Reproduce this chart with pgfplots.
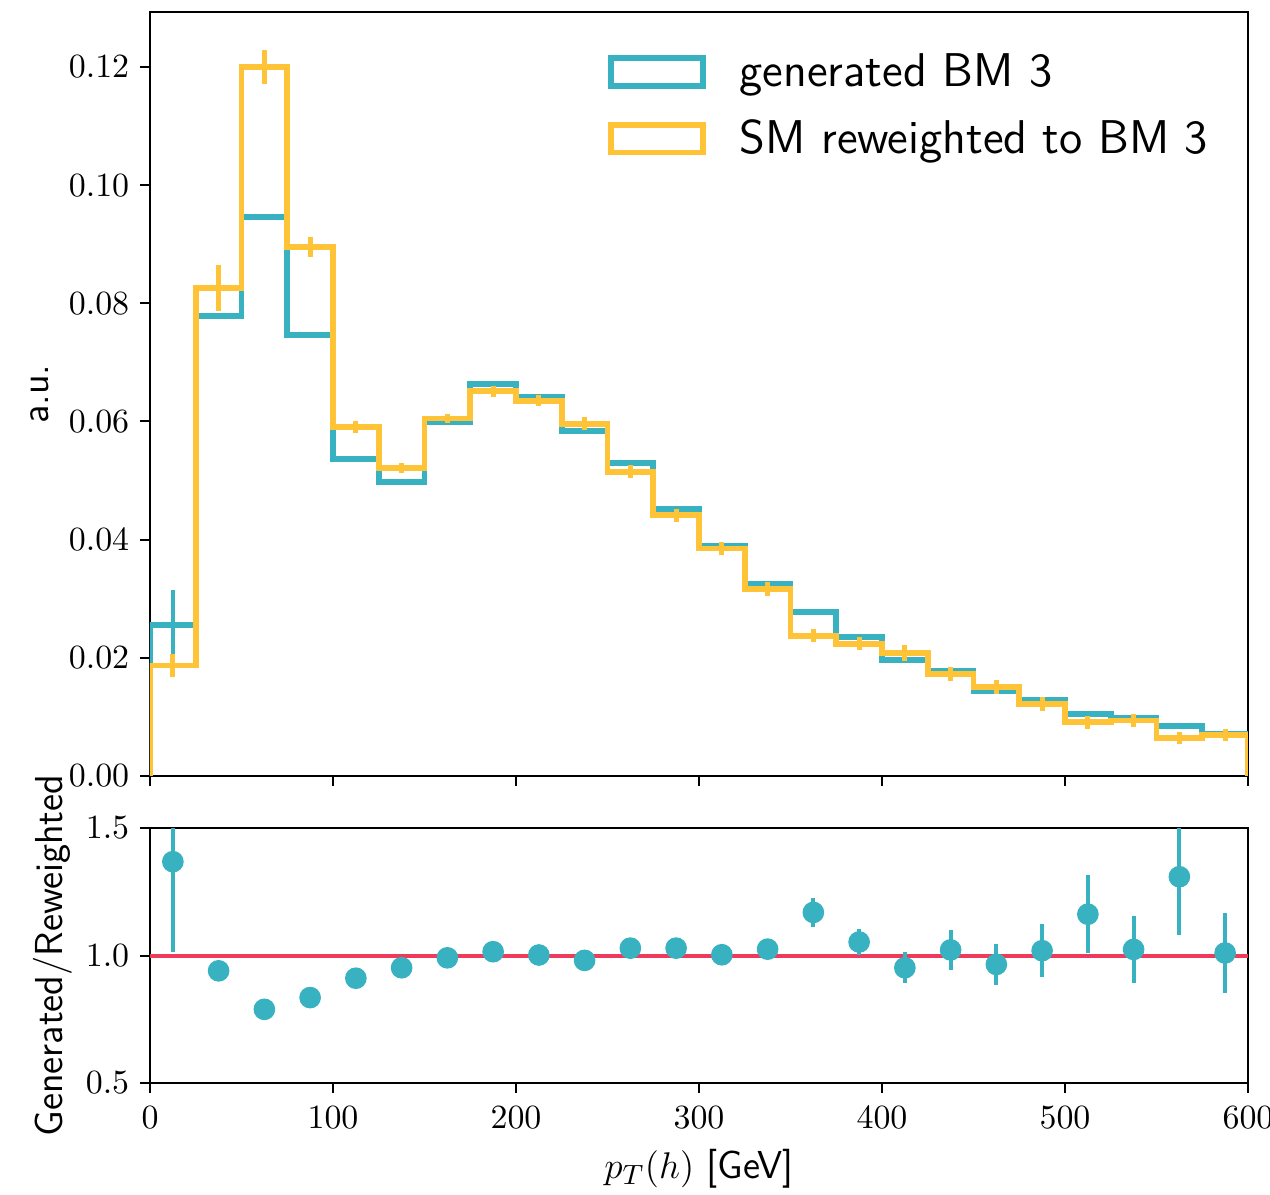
\documentclass[border=0pt]{standalone}
\usepackage{pgfplots}
\pgfplotsset{compat=1.18}
\usepackage{pgfplotstable}
\definecolor{tealc}{RGB}{56,178,193}
\definecolor{yellowc}{RGB}{255,195,55}
\definecolor{redc}{RGB}{240,58,92}

\pgfplotstableread{
x y
0 0
0 0.0255
25 0.0778
50 0.0946
75 0.0747
100 0.0537
125 0.0497
150 0.0599
175 0.0663
200 0.0641
225 0.0584
250 0.0529
275 0.0452
300 0.0389
325 0.0325
350 0.0278
375 0.0236
400 0.0197
425 0.0178
450 0.0144
475 0.0128
500 0.0105
525 0.0098
550 0.0085
575 0.0071
600 0.0071
600 0
}\genhist

\pgfplotstableread{
x y
0 0
0 0.0187
25 0.0826
50 0.1200
75 0.0895
100 0.0590
125 0.0521
150 0.0605
175 0.0651
200 0.0635
225 0.0596
250 0.0515
275 0.0441
300 0.0385
325 0.0316
350 0.0237
375 0.0224
400 0.0208
425 0.0172
450 0.0151
475 0.0122
500 0.0091
525 0.0094
550 0.0065
575 0.0069
600 0.0069
600 0
}\rewhist

\pgfplotstableread{
x y e
12.5 0.0255 0.0059
37.5 0.0778 0.0005
62.5 0.0946 0.0005
87.5 0.0747 0.0004
112.5 0.0537 0.0004
137.5 0.0497 0.0004
162.5 0.0599 0.0004
187.5 0.0663 0.0004
212.5 0.0641 0.0004
237.5 0.0584 0.0004
262.5 0.0529 0.0004
287.5 0.0452 0.0004
312.5 0.0389 0.0004
337.5 0.0325 0.0004
362.5 0.0278 0.0003
387.5 0.0236 0.0003
412.5 0.0197 0.0003
437.5 0.0178 0.0003
462.5 0.0144 0.0003
487.5 0.0128 0.0003
512.5 0.0105 0.0003
537.5 0.0098 0.0003
562.5 0.0085 0.0003
587.5 0.0071 0.0003
}\generr

\pgfplotstableread{
x y e
12.5 0.0187 0.0019
37.5 0.0826 0.0039
62.5 0.1200 0.0029
87.5 0.0895 0.0017
112.5 0.0590 0.0010
137.5 0.0521 0.0008
162.5 0.0605 0.0008
187.5 0.0651 0.0009
212.5 0.0635 0.0009
237.5 0.0596 0.0011
262.5 0.0515 0.0011
287.5 0.0441 0.0011
312.5 0.0385 0.0011
337.5 0.0316 0.0012
362.5 0.0237 0.0011
387.5 0.0224 0.0011
412.5 0.0208 0.0013
437.5 0.0172 0.0012
462.5 0.0151 0.0012
487.5 0.0122 0.0012
512.5 0.0091 0.0011
537.5 0.0094 0.0011
562.5 0.0065 0.0010
587.5 0.0069 0.0010
}\rewerr

\pgfplotstableread{
x y e
12.5 1.368 0.353
37.5 0.940 0.010
62.5 0.789 0.010
87.5 0.835 0.010
112.5 0.911 0.010
137.5 0.952 0.010
162.5 0.991 0.010
187.5 1.015 0.010
212.5 1.002 0.010
237.5 0.981 0.015
262.5 1.029 0.015
287.5 1.029 0.020
312.5 1.003 0.020
337.5 1.025 0.025
362.5 1.169 0.057
387.5 1.053 0.050
412.5 0.952 0.060
437.5 1.022 0.080
462.5 0.965 0.080
487.5 1.019 0.105
512.5 1.162 0.153
537.5 1.024 0.130
562.5 1.309 0.227
587.5 1.010 0.155
}\ratio

\pgfplotsset{
  common/.style={
    scale only axis,
    width=354.65pt,
    xmin=0, xmax=600,
    xtick={0,100,...,600},
    tick align=outside,
    xtick pos=bottom, ytick pos=left,
    major tick length=3.2pt,
    every tick/.style={black, line width=0.65pt},
    axis line style={line width=0.65pt},
    tick label style={font=\fontsize{10.5}{12}\selectfont},
    xticklabel style={yshift=-1pt},
    label style={font=\sffamily\fontsize{12.6}{14}\selectfont},
  }
}

\begin{document}
\begin{tikzpicture}
\begin{axis}[common, name=top,
  height=246.77pt,
  ymin=0, ymax=0.1293,
  ytick={0,0.02,...,0.12},
  xticklabels={},
  yticklabel style={/pgf/number format/.cd, fixed, fixed zerofill, precision=2},
  scaled y ticks=false,
  ylabel={a.u.},
  ylabel style={at={(axis description cs:-0.092,0.5)}, anchor=base, rotate=0},
  legend style={draw=none, fill=none, at={(axis description cs:0.408,0.963)}, anchor=north west,
    font=\sffamily\fontsize{15.3}{17}\selectfont, row sep=5.2pt,
    nodes={inner sep=2pt},
    /tikz/every odd column/.append style={column sep=9pt}},
  legend cell align=left,
]
\addplot[const plot, draw=tealc, line width=1.9pt, line join=miter,
  legend image code/.code={\draw[draw=tealc, line width=1.9pt] (0pt,-4.5pt) rectangle (29.7pt,4.5pt);}]
  table[x=x,y=y] {\genhist};
\addlegendentry{generated BM 3}
\addplot[forget plot, draw=none, mark=none,
  error bars/.cd, y dir=both, y explicit, error mark=none,
  error bar style={draw=tealc, line width=1.4pt}]
  table[x=x,y=y,y error=e] {\generr};
\addplot[const plot, draw=yellowc, line width=1.9pt, line join=miter,
  legend image code/.code={\draw[draw=yellowc, line width=1.9pt] (0pt,-4.5pt) rectangle (29.7pt,4.5pt);}]
  table[x=x,y=y] {\rewhist};
\addlegendentry{SM reweighted to BM 3}
\addplot[forget plot, draw=none, mark=none,
  error bars/.cd, y dir=both, y explicit, error mark=none,
  error bar style={draw=yellowc, line width=1.6pt}]
  table[x=x,y=y,y error=e] {\rewerr};
\end{axis}

\begin{axis}[common, name=bot,
  at={(top.south west)}, yshift=-16.8pt, anchor=north west,
  height=82.37pt,
  ymin=0.5, ymax=1.5,
  ytick={0.5,1.0,1.5},
  yticklabel style={/pgf/number format/.cd, fixed, fixed zerofill, precision=1},
  ylabel={Generated/Reweighted},
  ylabel style={at={(axis description cs:-0.080,0.5)}, anchor=base, rotate=0},
  xlabel={$p_T(h)$ [GeV]},
  xlabel style={at={(axis description cs:0.5,-0.3725)}, anchor=base},
]
\addplot[redc, line width=1.3pt, mark=none] coordinates {(0,1) (600,1)};
\addplot[only marks, mark=*, mark size=3.3pt, color=tealc, mark options={draw=tealc, fill=tealc},
  error bars/.cd, y dir=both, y explicit, error mark=none,
  error bar style={draw=tealc, line width=1.3pt}]
  table[x=x,y=y,y error=e] {\ratio};
\end{axis}
\pgfresetboundingbox
\path ([shift={(-48.45pt,3.88pt)}]top.north west) rectangle ([shift={(361.76pt,-381.79pt)}]top.north west);
\end{tikzpicture}
\end{document}
